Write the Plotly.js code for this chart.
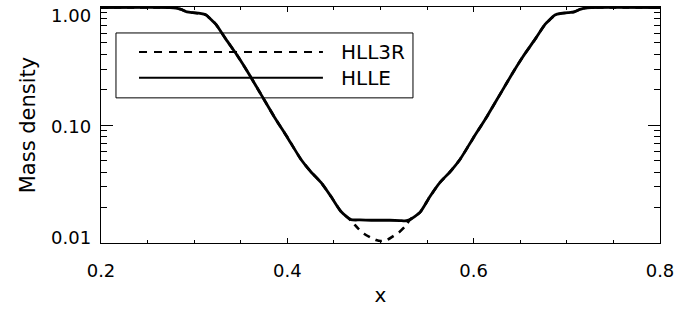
<!DOCTYPE html>
<html>
<head>
<meta charset="utf-8">
<script src="https://cdn.plot.ly/plotly-3.0.1.min.js"></script>
<style>html,body{margin:0;padding:0;background:#fff;}#chart{width:677px;height:309px;}</style>
</head>
<body>
<div id="chart"></div>
<script>
// HLLE (solid) profile
var xHLLE = [0.200, 0.274, 0.2805, 0.2859, 0.2923, 0.2987, 0.3063, 0.3127, 0.3181, 0.3234, 0.3342, 0.3470, 0.3578, 0.3717, 0.3857, 0.4007, 0.4147, 0.4250, 0.4361, 0.4469, 0.4576, 0.4683, 0.4780, 0.4900, 0.5000, 0.5100, 0.5209, 0.5263, 0.5317, 0.5424, 0.5531, 0.5639, 0.5750, 0.5853, 0.5993, 0.6143, 0.6283, 0.6422, 0.6530, 0.6658, 0.6766, 0.6819, 0.6873, 0.6937, 0.7012, 0.7077, 0.7141, 0.7195, 0.726, 0.800];
var yHLLE = [1.00, 1.00, 0.99, 0.964, 0.918, 0.903, 0.891, 0.865, 0.792, 0.719, 0.536, 0.384, 0.281, 0.183, 0.1188, 0.0773, 0.0512, 0.0405, 0.0327, 0.0248, 0.0185, 0.0158, 0.0157, 0.0156, 0.0156, 0.0156, 0.0155, 0.0154, 0.0158, 0.0182, 0.0248, 0.0327, 0.0405, 0.0512, 0.0773, 0.1188, 0.183, 0.281, 0.384, 0.536, 0.719, 0.792, 0.865, 0.891, 0.903, 0.918, 0.964, 0.99, 1.00, 1.00];
// HLL3R (dashed) profile
var xHLL3R = [0.200, 0.274, 0.2805, 0.2859, 0.2923, 0.2987, 0.3063, 0.3127, 0.3181, 0.3234, 0.3342, 0.3470, 0.3578, 0.3717, 0.3857, 0.4007, 0.4147, 0.4250, 0.4361, 0.4469, 0.4576, 0.4683, 0.4759, 0.4823, 0.4887, 0.4952, 0.5005, 0.5070, 0.5134, 0.5198, 0.5263, 0.5317, 0.5424, 0.5531, 0.5639, 0.5750, 0.5853, 0.5993, 0.6143, 0.6283, 0.6422, 0.6530, 0.6658, 0.6766, 0.6819, 0.6873, 0.6937, 0.7012, 0.7077, 0.7141, 0.7195, 0.726, 0.800];
var yHLL3R = [1.00, 1.00, 0.99, 0.964, 0.918, 0.903, 0.891, 0.865, 0.792, 0.719, 0.536, 0.384, 0.281, 0.183, 0.1188, 0.0773, 0.0512, 0.0405, 0.0327, 0.0248, 0.0185, 0.0155, 0.0133, 0.0120, 0.0112, 0.0106, 0.0104, 0.0106, 0.0114, 0.0123, 0.0138, 0.0158, 0.0182, 0.0248, 0.0327, 0.0405, 0.0512, 0.0773, 0.1188, 0.183, 0.281, 0.384, 0.536, 0.719, 0.792, 0.865, 0.891, 0.903, 0.918, 0.964, 0.99, 1.00, 1.00];

var xTickVals = [0.2, 0.4, 0.6, 0.8];
var xTickText = ['0.2', '0.4', '0.6', '0.8'];
var yTickVals = [0.01, 0.1, 1];
var yTickText = ['0.01', '0.10', '1.00'];
var yMinorVals = [0.02,0.03,0.04,0.05,0.06,0.07,0.08,0.09,0.2,0.3,0.4,0.5,0.6,0.7,0.8,0.9];
var seriesNames = ['HLL3R', 'HLLE'];

var FONT = 'DejaVu Sans, Liberation Sans, sans-serif';

var traces = [
  {x: xHLL3R, y: yHLL3R, name: seriesNames[0], type: 'scatter', mode: 'lines',
   line: {color: '#000', width: 2.6, dash: '7px,6px', shape: 'spline', smoothing: 0.6}, showlegend: false},
  {x: xHLLE, y: yHLLE, name: seriesNames[1], type: 'scatter', mode: 'lines',
   line: {color: '#000', width: 2.8, shape: 'spline', smoothing: 0.6}, showlegend: false}
];

// legend drawn in paper coordinates
var lgX0 = 0.0268, lgX1 = 0.5581, lgYTop = 0.890, lgYBot = 0.615;
var lgLineX0 = 0.068, lgLineX1 = 0.397, lgTextX = 0.4258;
var lgRows = [0.8097, 0.6998];
// y tick labels sit slightly inside the range, as in the original plot
var yLabelShift = [6, -1, -8];

var legendTexts = seriesNames.map(function (n, i) {
  return {text: n, xref: 'paper', yref: 'paper', x: lgTextX, y: lgRows[i],
          xanchor: 'left', yanchor: 'middle', showarrow: false,
          font: {size: 20, family: FONT, color: '#000'}};
});
var yLabels = yTickVals.map(function (v, i) {
  return {text: yTickText[i], xref: 'paper', yref: 'y', x: 0, y: Math.log10(v),
          xanchor: 'right', yanchor: 'middle', xshift: -8, yshift: yLabelShift[i],
          showarrow: false, font: {size: 18, family: FONT, color: '#000'}};
});

var layout = {
  width: 677, height: 309,
  margin: {l: 101, r: 17, t: 7, b: 66},
  paper_bgcolor: '#fff', plot_bgcolor: '#fff',
  font: {family: FONT, color: '#000', size: 18},
  showlegend: false,
  xaxis: {
    range: [0.2, 0.8], showgrid: false, zeroline: false,
    showline: true, linecolor: '#000', linewidth: 1, mirror: 'ticks',
    ticks: 'inside', ticklen: 5, tickcolor: '#000', tickwidth: 1,
    tickvals: xTickVals, ticktext: xTickText,
    tickfont: {size: 18, family: FONT}, ticklabelstandoff: 11,
    ticklabeloverflow: 'allow',
    minor: {dtick: 0.05, ticks: 'inside', ticklen: 3, tickcolor: '#000', tickwidth: 1, showgrid: false},
    title: {text: 'x', font: {size: 20, family: FONT}, standoff: 8},
    automargin: false
  },
  yaxis: {
    type: 'log', range: [-2, 0.0043], showgrid: false, zeroline: false,
    showline: true, linecolor: '#000', linewidth: 1, mirror: 'ticks',
    ticks: 'inside', ticklen: 12, tickcolor: '#000', tickwidth: 1,
    tickvals: yTickVals, ticktext: yTickText, showticklabels: false,
    minor: {tickvals: yMinorVals, ticks: 'inside', ticklen: 6, tickcolor: '#000', tickwidth: 1, showgrid: false},
    title: {text: 'Mass density', font: {size: 21, family: FONT}, standoff: 58},
    automargin: 'left'
  },
  shapes: [
    {type: 'rect', xref: 'paper', yref: 'paper', x0: lgX0, x1: lgX1, y0: lgYBot, y1: lgYTop,
     line: {color: '#000', width: 1}, fillcolor: 'rgba(0,0,0,0)'},
    {type: 'line', xref: 'paper', yref: 'paper', x0: lgLineX0, x1: lgLineX1, y0: lgRows[0], y1: lgRows[0],
     line: {color: '#000', width: 2, dash: '8px,7px'}},
    {type: 'line', xref: 'paper', yref: 'paper', x0: lgLineX0, x1: lgLineX1, y0: lgRows[1], y1: lgRows[1],
     line: {color: '#000', width: 2}}
  ],
  annotations: legendTexts.concat(yLabels)
};

Plotly.newPlot('chart', traces, layout, {displayModeBar: false, staticPlot: true});
</script>
</body>
</html>
